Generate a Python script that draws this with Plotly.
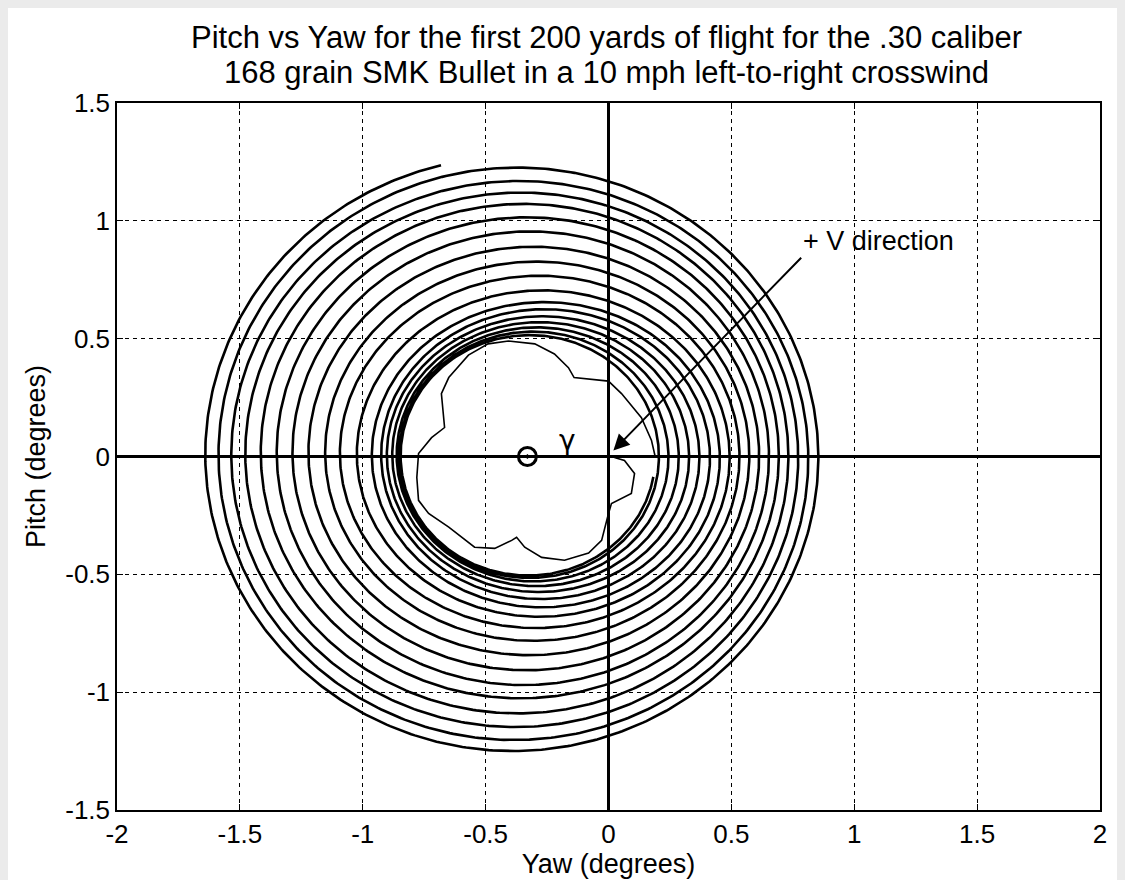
import numpy as np
import plotly.graph_objects as go

# ---- data (degrees) ----
# extents of each spiral turn, outermost -> innermost
turn_left = [-1.641, -1.587, -1.535, -1.478, -1.415, -1.350, -1.286, -1.221,
             -1.153, -1.093, -1.024, -0.963, -0.925, -0.902, -0.880, -0.862,
             -0.852, -0.846]
turn_right = [0.854, 0.813, 0.772, 0.732, 0.693, 0.653, 0.613, 0.573, 0.533,
              0.493, 0.453, 0.413, 0.370, 0.328, 0.286, 0.244, 0.205, 0.190]
turn_top = [1.226, 1.169, 1.120, 1.072, 1.015, 0.955, 0.890, 0.827, 0.767,
            0.705, 0.655, 0.625, 0.595, 0.570, 0.548, 0.530, 0.515, 0.505]
turn_bottom = [-1.250, -1.203, -1.148, -1.090, -1.026, -0.970, -0.907, -0.843,
               -0.782, -0.728, -0.680, -0.640, -0.605, -0.575, -0.550, -0.530,
               -0.515, -0.505]
start_point = (-0.687, 1.237)   # where the outermost arc ends (top-left)

# inner rosette trace
rosette_x = [0.024, 0.065, 0.106, 0.093, 0.012, 0.000, -0.028, -0.081, -0.179,
             -0.272, -0.341, -0.374, -0.394, -0.463, -0.545, -0.650, -0.732,
             -0.773, -0.780, -0.773, -0.720, -0.667, -0.680, -0.650, -0.570,
             -0.490, -0.407, -0.300, -0.220, -0.163, -0.140, 0.000, 0.053,
             0.134, 0.175, 0.190]
rosette_y = [-0.004, -0.017, -0.072, -0.157, -0.200, -0.242, -0.356, -0.410,
             -0.440, -0.428, -0.385, -0.343, -0.356, -0.390, -0.385, -0.300,
             -0.242, -0.186, -0.089, 0.013, 0.080, 0.123, 0.267, 0.335, 0.430,
             0.478, 0.490, 0.478, 0.435, 0.377, 0.335, 0.320, 0.267, 0.165,
             0.068, 0.000]

sun_mark = (-0.33, 0.0)
gamma_mark = (-0.165, 0.07)
arrow_head = (0.02, 0.025)
arrow_tail = (0.79, 0.85)
arrow_label = "+ V direction"
label_pos = (1.098, 0.915)

title_lines = ["Pitch vs Yaw for the first 200 yards of flight for the .30 caliber",
               "168 grain SMK Bullet in a 10 mph left-to-right crosswind"]
x_ticks = [-2, -1.5, -1, -0.5, 0, 0.5, 1, 1.5, 2]
y_ticks = [-1.5, -1, -0.5, 0, 0.5, 1, 1.5]

# ---- build spiral path through the read extents ----
n = len(turn_left)
k = np.arange(n)
th_left = np.radians(180 + 360 * k)
th_right = np.radians(360 + 360 * k)
th_bottom = np.radians(270 + 360 * k)
th0 = np.arctan2(start_point[1], start_point[0] - (turn_left[0] + turn_right[0]) / 2)
s0 = np.sin(th0)
top_start = (start_point[1] - turn_bottom[0] * (1 - s0) / 2) / ((1 + s0) / 2)
th_top = np.radians(np.concatenate([[90], 450 + 360 * k]))
top_vals = np.concatenate([[top_start], turn_top])

theta = np.linspace(th0, np.radians(270 + 360 * (n - 1) + 80), 9000)
L = np.interp(theta, th_left, turn_left)
R = np.interp(theta, th_right, turn_right)
T = np.interp(theta, th_top, top_vals)
B = np.interp(theta, th_bottom, turn_bottom)
sx = (R + L) / 2 + (R - L) / 2 * np.cos(theta)
sy = (T + B) / 2 + (T - B) / 2 * np.sin(theta)

fig = go.Figure()
fig.add_trace(go.Scatter(x=sx, y=sy, mode="lines",
                         line=dict(color="black", width=2.6), hoverinfo="skip"))
fig.add_trace(go.Scatter(x=rosette_x, y=rosette_y, mode="lines",
                         line=dict(color="black", width=1.6), hoverinfo="skip"))
fig.add_trace(go.Scatter(x=[sun_mark[0]], y=[sun_mark[1]], mode="markers",
                         marker=dict(symbol="circle-open-dot", size=18, color="black",
                                     line=dict(width=3, color="black")),
                         hoverinfo="skip"))

fig.add_annotation(x=gamma_mark[0], y=gamma_mark[1], text="γ", showarrow=False,
                   font=dict(family="DejaVu Sans", size=28, color="black"))
fig.add_annotation(x=arrow_head[0], y=arrow_head[1], ax=arrow_tail[0], ay=arrow_tail[1],
                   axref="x", ayref="y", xref="x", yref="y", text="",
                   showarrow=True, arrowhead=2, arrowsize=1.6, arrowwidth=2,
                   arrowcolor="black")
fig.add_annotation(x=label_pos[0], y=label_pos[1], text=arrow_label, showarrow=False,
                   font=dict(family="Liberation Sans", size=27, color="black"))
for line_text, ypos in zip(title_lines, [1.092, 1.043]):
    fig.add_annotation(x=-0.01, xref="x", y=ypos, yref="paper", text=line_text,
                       showarrow=False, yanchor="middle",
                       font=dict(family="Liberation Sans", size=31, color="black"))

grid = dict(showgrid=True, gridcolor="black", gridwidth=1, griddash="4px,4px",
            zeroline=True, zerolinecolor="black", zerolinewidth=2.5,
            showline=True, linecolor="black", linewidth=1.5, mirror="ticks",
            ticks="inside", ticklen=6, tickcolor="black",
            tickfont=dict(family="Liberation Sans", size=26, color="black"))

fig.update_xaxes(range=[-2, 2], tickvals=x_ticks,
                 ticktext=[f"{v:g}" for v in x_ticks],
                 title=dict(text="Yaw (degrees)", standoff=0,
                            font=dict(family="Liberation Sans", size=27, color="black")),
                 **grid)
fig.update_yaxes(range=[-1.5, 1.5], tickvals=y_ticks,
                 ticktext=[f"{v:g}" for v in y_ticks],
                 title=dict(text="Pitch (degrees)", standoff=12,
                            font=dict(family="Liberation Sans", size=27, color="black")),
                 **grid)

fig.update_layout(
    width=1117, height=872,
    margin=dict(l=109, r=25, t=95, b=70),
    paper_bgcolor="white", plot_bgcolor="white",
    showlegend=False,
)

fig.write_html("out.html", post_script="document.body.style.background='#ebebeb';")
